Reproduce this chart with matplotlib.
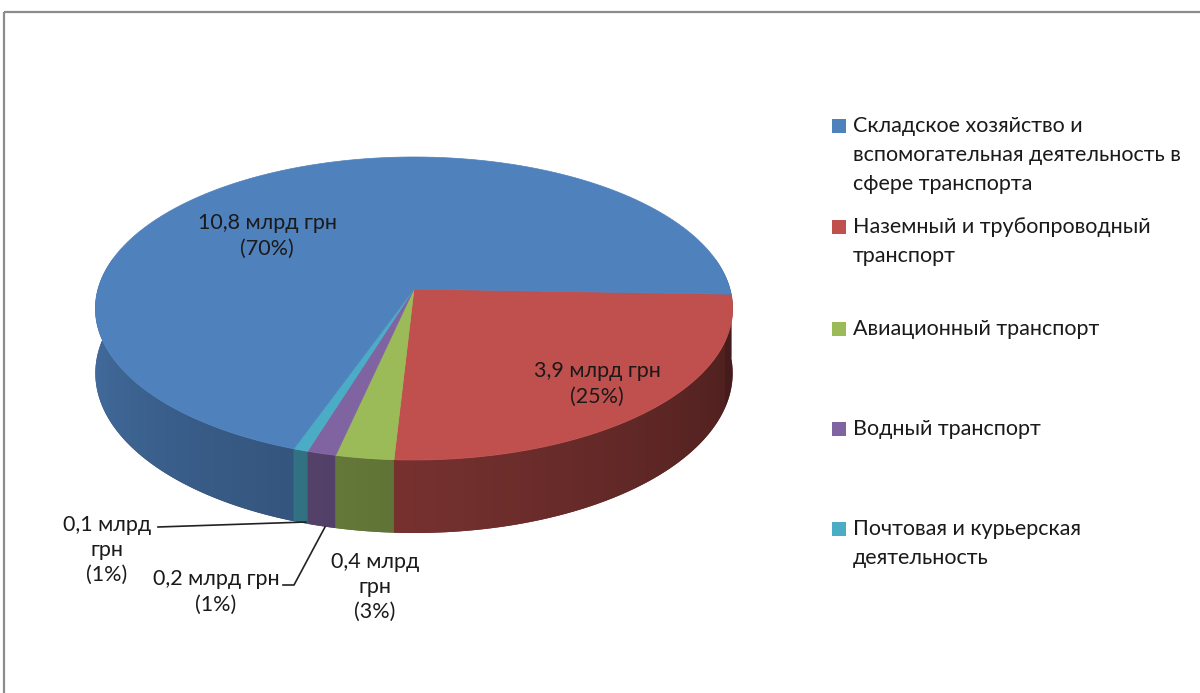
import numpy as np
import matplotlib
matplotlib.use("Agg")
import matplotlib.pyplot as plt
from matplotlib.patches import Polygon, Rectangle
from matplotlib.colors import to_rgb

plt.rcParams['font.family'] = ['Lato', 'Open Sans', 'DejaVu Sans']

# ---- data ----
categories = [
    "Складское хозяйство и\nвспомогательная деятельность в\nсфере транспорта",
    "Наземный и трубопроводный\nтранспорт",
    "Авиационный транспорт",
    "Водный транспорт",
    "Почтовая и курьерская\nдеятельность",
]
values = [10.8, 3.9, 0.4, 0.2, 0.1]          # млрд грн
colors = ["#4F81BD", "#C0504D", "#9BBB59", "#8064A2", "#4BACC6"]
label_wrap = [False, False, True, False, True]

# ---- geometry (pixels) ----
W, H = 1200, 693
cx, cy = 414, 289
A, B = 316, 149
k = 0.1287
depth = 63.6
start_deg = 2.0

fig = plt.figure(figsize=(W / 100, H / 100), dpi=100)
ax = fig.add_axes([0, 0, 1, 1])
ax.set_xlim(0, W)
ax.set_ylim(H, 0)
ax.axis('off')

# chart frame
ax.add_patch(Rectangle((3.5, 11.5), 1210, 700, fill=False, ec="#8c8c8c", lw=1.6))


def proj(t, z):
    u, v = np.cos(t), np.sin(t)
    w = 1 - k * v
    return cx + A * u / w, cy + (B * v + z) / w


total = sum(values)
fracs = [v / total for v in values]
# first slice (blue) ends at the start angle; others run clockwise from it
order = [1, 2, 3, 4, 0]
bounds = {}
t0 = np.deg2rad(start_deg)
for i in order:
    t1 = t0 + 2 * np.pi * fracs[i]
    bounds[i] = (t0, t1)
    t0 = t1


def shade(tdeg):
    return 0.36 + 0.5 * np.clip(tdeg, 0, 180) / 180


# mapping screen x -> angle on the visible front rim
t_map = np.linspace(np.deg2rad(-5), np.deg2rad(172), 2000)
x_map, _ = proj(t_map, 0)
xm_sorted = x_map[::-1]
tm_sorted = np.rad2deg(t_map[::-1])

lo, hi = np.deg2rad(-12), np.deg2rad(192)
segments = []
for i, (a, b) in bounds.items():
    for off in (0, 2 * np.pi, -2 * np.pi):
        aa, bb = max(a + off, lo), min(b + off, hi)
        if bb > aa:
            segments.append((np.sin(0.5 * (aa + bb)), i, aa, bb))
segments.sort(key=lambda s: s[0])

for _, i, aa, bb in segments:
    base = np.array(to_rgb(colors[i]))
    ts = np.linspace(aa, bb, 400)
    xt, yt = proj(ts, 0)
    xb, yb = proj(ts[::-1], depth)
    pts = np.column_stack([np.r_[xt, xb], np.r_[yt, yb]])
    poly = Polygon(pts, closed=True, fc=base * 0.6, ec='none', zorder=1)
    ax.add_patch(poly)
    x0, x1 = pts[:, 0].min() - 2, pts[:, 0].max() + 2
    y0, y1 = pts[:, 1].min() - 2, pts[:, 1].max() + 2
    xs = np.linspace(x0, x1, int(x1 - x0) + 1)
    tdeg = np.interp(xs, xm_sorted, tm_sorted)
    img = np.clip(base[None, None, :] * shade(tdeg)[None, :, None], 0, 1)
    img = np.repeat(img, 2, axis=0)
    im = ax.imshow(img, extent=(x0, x1, y1, y0), aspect='auto',
                   interpolation='bilinear', zorder=1)
    im.set_clip_path(poly)

# top faces
for i, (a, b) in bounds.items():
    n = max(3, int(np.rad2deg(b - a) / 0.5))
    ts = np.linspace(a, b, n + 1)
    xs, ys = proj(ts, 0)
    pts = [(cx, cy)] + list(zip(xs, ys))
    ax.add_patch(Polygon(pts, closed=True, fc=colors[i], ec=colors[i],
                         lw=0.5, zorder=2))

ax.set_xlim(0, W)
ax.set_ylim(H, 0)

# data labels
label_pos = [(267, 236), (597, 384), (375, 587), (216, 592), (107, 550)]
fs = 15.5
for i, v in enumerate(values):
    pct = int(round(100 * v / total))
    vs = f"{v:.1f}".replace('.', ',')
    if label_wrap[i]:
        txt = f"{vs} млрд\nгрн\n({pct}%)"
    else:
        txt = f"{vs} млрд грн\n({pct}%)"
    ax.text(*label_pos[i], txt, ha='center', va='center', fontsize=fs,
            color='#1a1a1a', linespacing=1.32, zorder=5)

# leader lines
ax.plot([158, 306], [527, 522], color='#222222', lw=1.2, zorder=4)
ax.plot([283, 294, 325], [585, 585, 527], color='#222222', lw=1.2, zorder=4)

# legend
leg_y = [126, 227, 329, 429, 529]
for i, cat in enumerate(categories):
    y0 = leg_y[i]
    ax.add_patch(Rectangle((832, y0 - 7), 14, 14, fc=colors[i], ec='none'))
    for j, line in enumerate(cat.split("\n")):
        ax.text(853, y0 + j * 29, line, ha='left', va='center', fontsize=fs,
                color='#1a1a1a')

fig.savefig("out.png", dpi=100)
